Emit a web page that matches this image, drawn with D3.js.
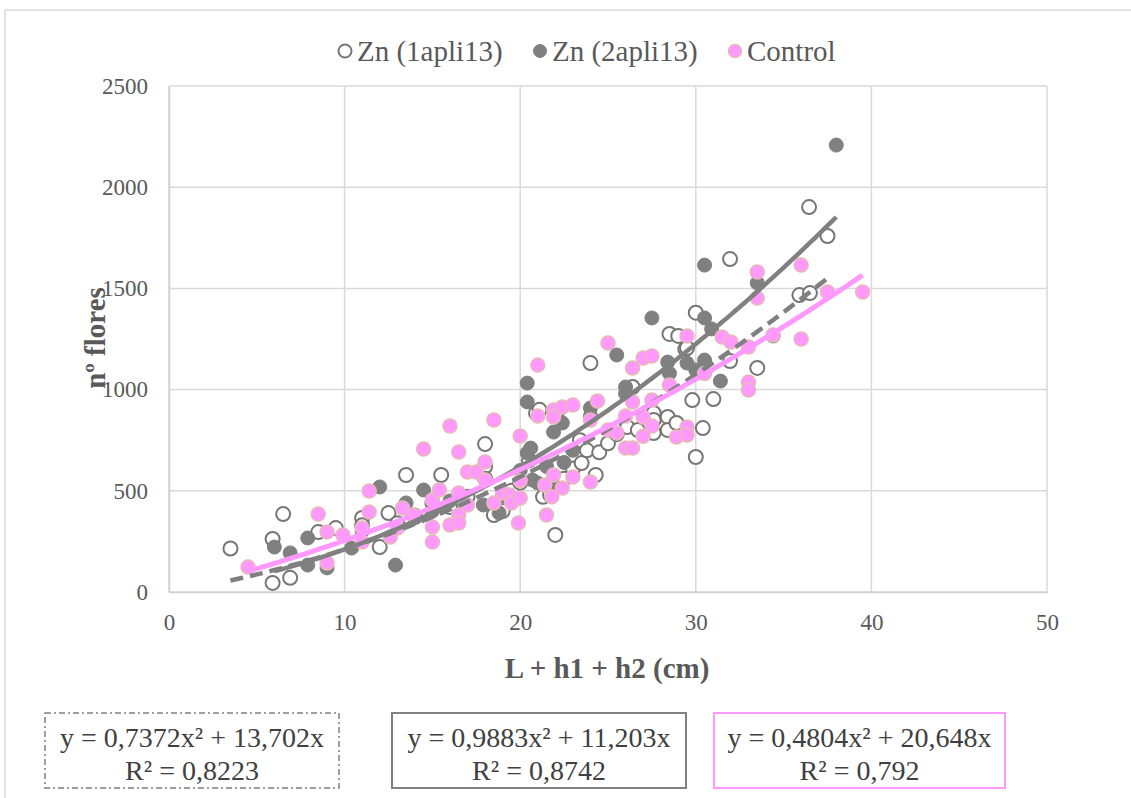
<!DOCTYPE html>
<html><head><meta charset="utf-8">
<script src="https://cdn.jsdelivr.net/npm/d3@7"></script>
<style>body{margin:0;background:#fff}svg{display:block}text{font-family:"Liberation Serif","Times New Roman",serif}</style>
</head><body><svg id="c" width="1131" height="798"></svg>
<script>
// ---- data ----
const zn1X = [3.5,5.9,5.9,6.5,6.9,8.5,9.5,11,11,12,12.5,13,13.5,14,15,15.5,16,17,18,18,18,18.5,19,19.5,20,20.5,20.9,21.1,21.3,21.7,22,22.1,22.5,23,23.4,23.5,23.8,24,24.3,24.5,25,25.5,26.1,26.4,26.7,27.6,27.6,27.6,28.4,28.4,28.5,28.9,29,29.4,29.5,29.8,30,30,30.4,31,31.95,31.95,33.5,35.9,36.5,36.45,37.5];
const zn1Y = [215,262,45,385,70,296,316,366,330,222,390,340,578,370,440,578,420,470,731,620,560,380,400,500,540,650,884,900,470,480,282,890,560,610,750,637,700,1131,578,690,735,780,815,1013,800,885,785,850,865,800,1275,835,1265,1200,1205,948,1380,667,810,953,1645,1141,1107,1467,1477,1902,1759];
const zn2X = [6,6.9,7.9,7.9,9,10.4,11,12,12.9,13.5,14,14.5,15,16,17.9,18.8,19,20,20.4,20.4,20.6,20.4,21,20.7,21.5,21.9,22,22.4,22.5,23,24,24,25.5,26,26,27.5,28.4,28.5,29.5,30,30.5,30.5,30.5,30.9,31.4,33.5,34.4,38];
const zn2Y = [222,193,267,133,119,217,300,519,133,440,380,504,400,450,430,390,470,600,1032,939,711,687,538,553,620,790,520,835,640,700,909,870,1171,1013,980,1354,1136,1080,1131,1097,1146,1615,1354,1300,1042,1527,1265,2208];
const ctlX = [4.5,8.5,9,9,9.9,11,11,11.4,11.4,12.6,13,13.3,13.9,14.5,15,15,15,15.4,16,16,16.5,16.5,16.5,16.5,17,17,17.5,18,18,18.5,18.5,19,19.4,19.5,19.9,20,20,20,21,21,21.5,21.4,21.8,21.9,21.9,21.9,22.4,22.4,23,23,24,24,24.4,25,25,25.5,26,26,26.4,26.4,26.4,27,27,27,27.5,27.5,27.5,28.5,28.9,29.5,29.5,29.5,30.5,31.5,32,33,33,33,33.5,33.5,34.4,36,36,37.5,39.5];
const ctlY = [124,385,296,143,282,316,247,395,499,272,316,415,380,707,455,321,247,504,820,331,692,489,380,341,593,430,593,642,553,850,440,489,479,440,341,771,464,550,1121,870,380,529,470,899,865,578,514,914,924,568,543,850,944,1230,800,786,870,711,1107,711,939,1156,865,770,1166,949,820,1023,766,1265,815,776,1080,1260,1235,1210,1037,998,1581,1452,1270,1615,1250,1482,1482];
const seriesNames = ["Zn (1apli13)","Zn (2apli13)","Control"];
const coefA = [0.7372,0.9883,0.4804];
const coefB = [13.702,11.203,20.648];
const eqLine1 = ["y = 0,7372x² + 13,702x","y = 0,9883x² + 11,203x","y = 0,4804x² + 20,648x"];
const eqLine2 = ["R² = 0,8223","R² = 0,8742","R² = 0,792"];
const xTicks = [0,10,20,30,40,50];
const yTicks = [0,500,1000,1500,2000,2500];
const xTitle = "L + h1 + h2 (cm)";
const yTitle = "nº flores";

// ---- drawing ----
const FONT = '"Times New Roman","Liberation Serif",serif';
const svg = d3.select("#c");
const txt = "#595959";
svg.append("rect").attr("x",5).attr("y",10).attr("width",1140).attr("height",800)
  .attr("fill","#fff").attr("stroke","#d9d9d9").attr("stroke-width",1.5);

const x = d3.scaleLinear().domain([0,50]).range([169,1047]);
const y = d3.scaleLinear().domain([0,2500]).range([592,86]);

const g = svg.append("g");
// grid
g.selectAll(".gy").data(yTicks).join("line")
  .attr("x1",x(0)).attr("x2",x(50)).attr("y1",d=>y(d)).attr("y2",d=>y(d))
  .attr("stroke","#d9d9d9").attr("stroke-width",1.5);
g.selectAll(".gx").data(xTicks).join("line")
  .attr("y1",y(0)).attr("y2",y(2500)).attr("x1",d=>x(d)).attr("x2",d=>x(d))
  .attr("stroke","#d9d9d9").attr("stroke-width",1.5);

// axes
const xAxis = d3.axisBottom(x).tickValues(xTicks).tickFormat(d3.format("d")).tickSize(0).tickPadding(26);
const yAxis = d3.axisLeft(y).tickValues(yTicks).tickFormat(d3.format("d")).tickSize(0).tickPadding(21);
const gx = svg.append("g").attr("transform",`translate(0,${y(0)})`).call(xAxis);
const gy = svg.append("g").attr("transform",`translate(${x(0)},0)`).call(yAxis);
[gx,gy].forEach(a=>{
  a.attr("font-family",null).attr("font-size",null);
  a.select(".domain").attr("stroke","#d0d0d0").attr("stroke-width",1.5);
  a.selectAll("text").attr("fill",txt).style("font-family",FONT).style("font-size","23px");
});
gx.selectAll("text").attr("dy","0.5em");

svg.append("text").attr("x",607).attr("y",678).attr("text-anchor","middle")
  .attr("fill",txt).style("font-size","29px").style("font-weight","bold").text(xTitle);
svg.append("text").attr("transform","translate(105,338) rotate(-90)").attr("text-anchor","middle")
  .attr("fill",txt).style("font-size","29px").style("font-weight","bold").text(yTitle);

// points
const sets = [
  {xs:zn1X, ys:zn1Y, fill:"#fff", stroke:"#767676", sw:2},
  {xs:zn2X, ys:zn2Y, fill:"#808080", stroke:"#808080", sw:1},
  {xs:ctlX, ys:ctlY, fill:"#ff99ff", stroke:"#e6b9b8", sw:1.5}
];
sets.forEach(s=>{
  const pts = s.xs.map((v,i)=>[v,s.ys[i]]);
  g.append("g").selectAll("circle").data(pts).join("circle")
    .attr("cx",d=>x(d[0])).attr("cy",d=>y(d[1])).attr("r",7)
    .attr("fill",s.fill).attr("stroke",s.stroke).attr("stroke-width",s.sw);
});

// trendlines
const lineStyles = [
  {color:"#808080", w:4.5, dash:"13,7"},
  {color:"#808080", w:4.5, dash:null},
  {color:"#ff99ff", w:5, dash:null}
];
const line = d3.line().x(d=>x(d[0])).y(d=>y(d[1]));
sets.forEach((s,i)=>{
  const [lo,hi] = d3.extent(s.xs);
  const pts = d3.range(lo,hi+0.001,0.25).map(v=>[v,coefA[i]*v*v+coefB[i]*v]);
  const p = g.append("path").attr("d",line(pts)).attr("fill","none")
    .attr("stroke",lineStyles[i].color).attr("stroke-width",lineStyles[i].w);
  if(lineStyles[i].dash) p.attr("stroke-dasharray",lineStyles[i].dash);
});

// legend
const legX = [345,540,735];
seriesNames.forEach((n,i)=>{
  const s = sets[i];
  svg.append("circle").attr("cx",legX[i]).attr("cy",51).attr("r",6.5)
    .attr("fill",s.fill).attr("stroke",s.stroke).attr("stroke-width",s.sw);
  svg.append("text").attr("x",legX[i]+12).attr("y",61).attr("fill",txt)
    .style("font-size","29px").text(n);
});

// equation boxes
const boxes = [
  {x0:45,x1:339,stroke:"#808080",dash:"6,3,2,3",w:1.5},
  {x0:392,x1:686,stroke:"#808080",dash:null,w:2},
  {x0:714,x1:1005,stroke:"#ff99ff",dash:null,w:2}
];
boxes.forEach((b,i)=>{
  const r = svg.append("rect").attr("x",b.x0).attr("y",713).attr("width",b.x1-b.x0).attr("height",75)
    .attr("fill","#fff").attr("stroke",b.stroke).attr("stroke-width",b.w);
  if(b.dash) r.attr("stroke-dasharray",b.dash);
  const cx=(b.x0+b.x1)/2;
  svg.append("text").attr("x",cx).attr("y",747).attr("text-anchor","middle").attr("fill","#404040")
    .style("font-size","28px").text(eqLine1[i]);
  svg.append("text").attr("x",cx).attr("y",780).attr("text-anchor","middle").attr("fill","#404040")
    .style("font-size","28px").text(eqLine2[i]);
});
</script></body></html>
